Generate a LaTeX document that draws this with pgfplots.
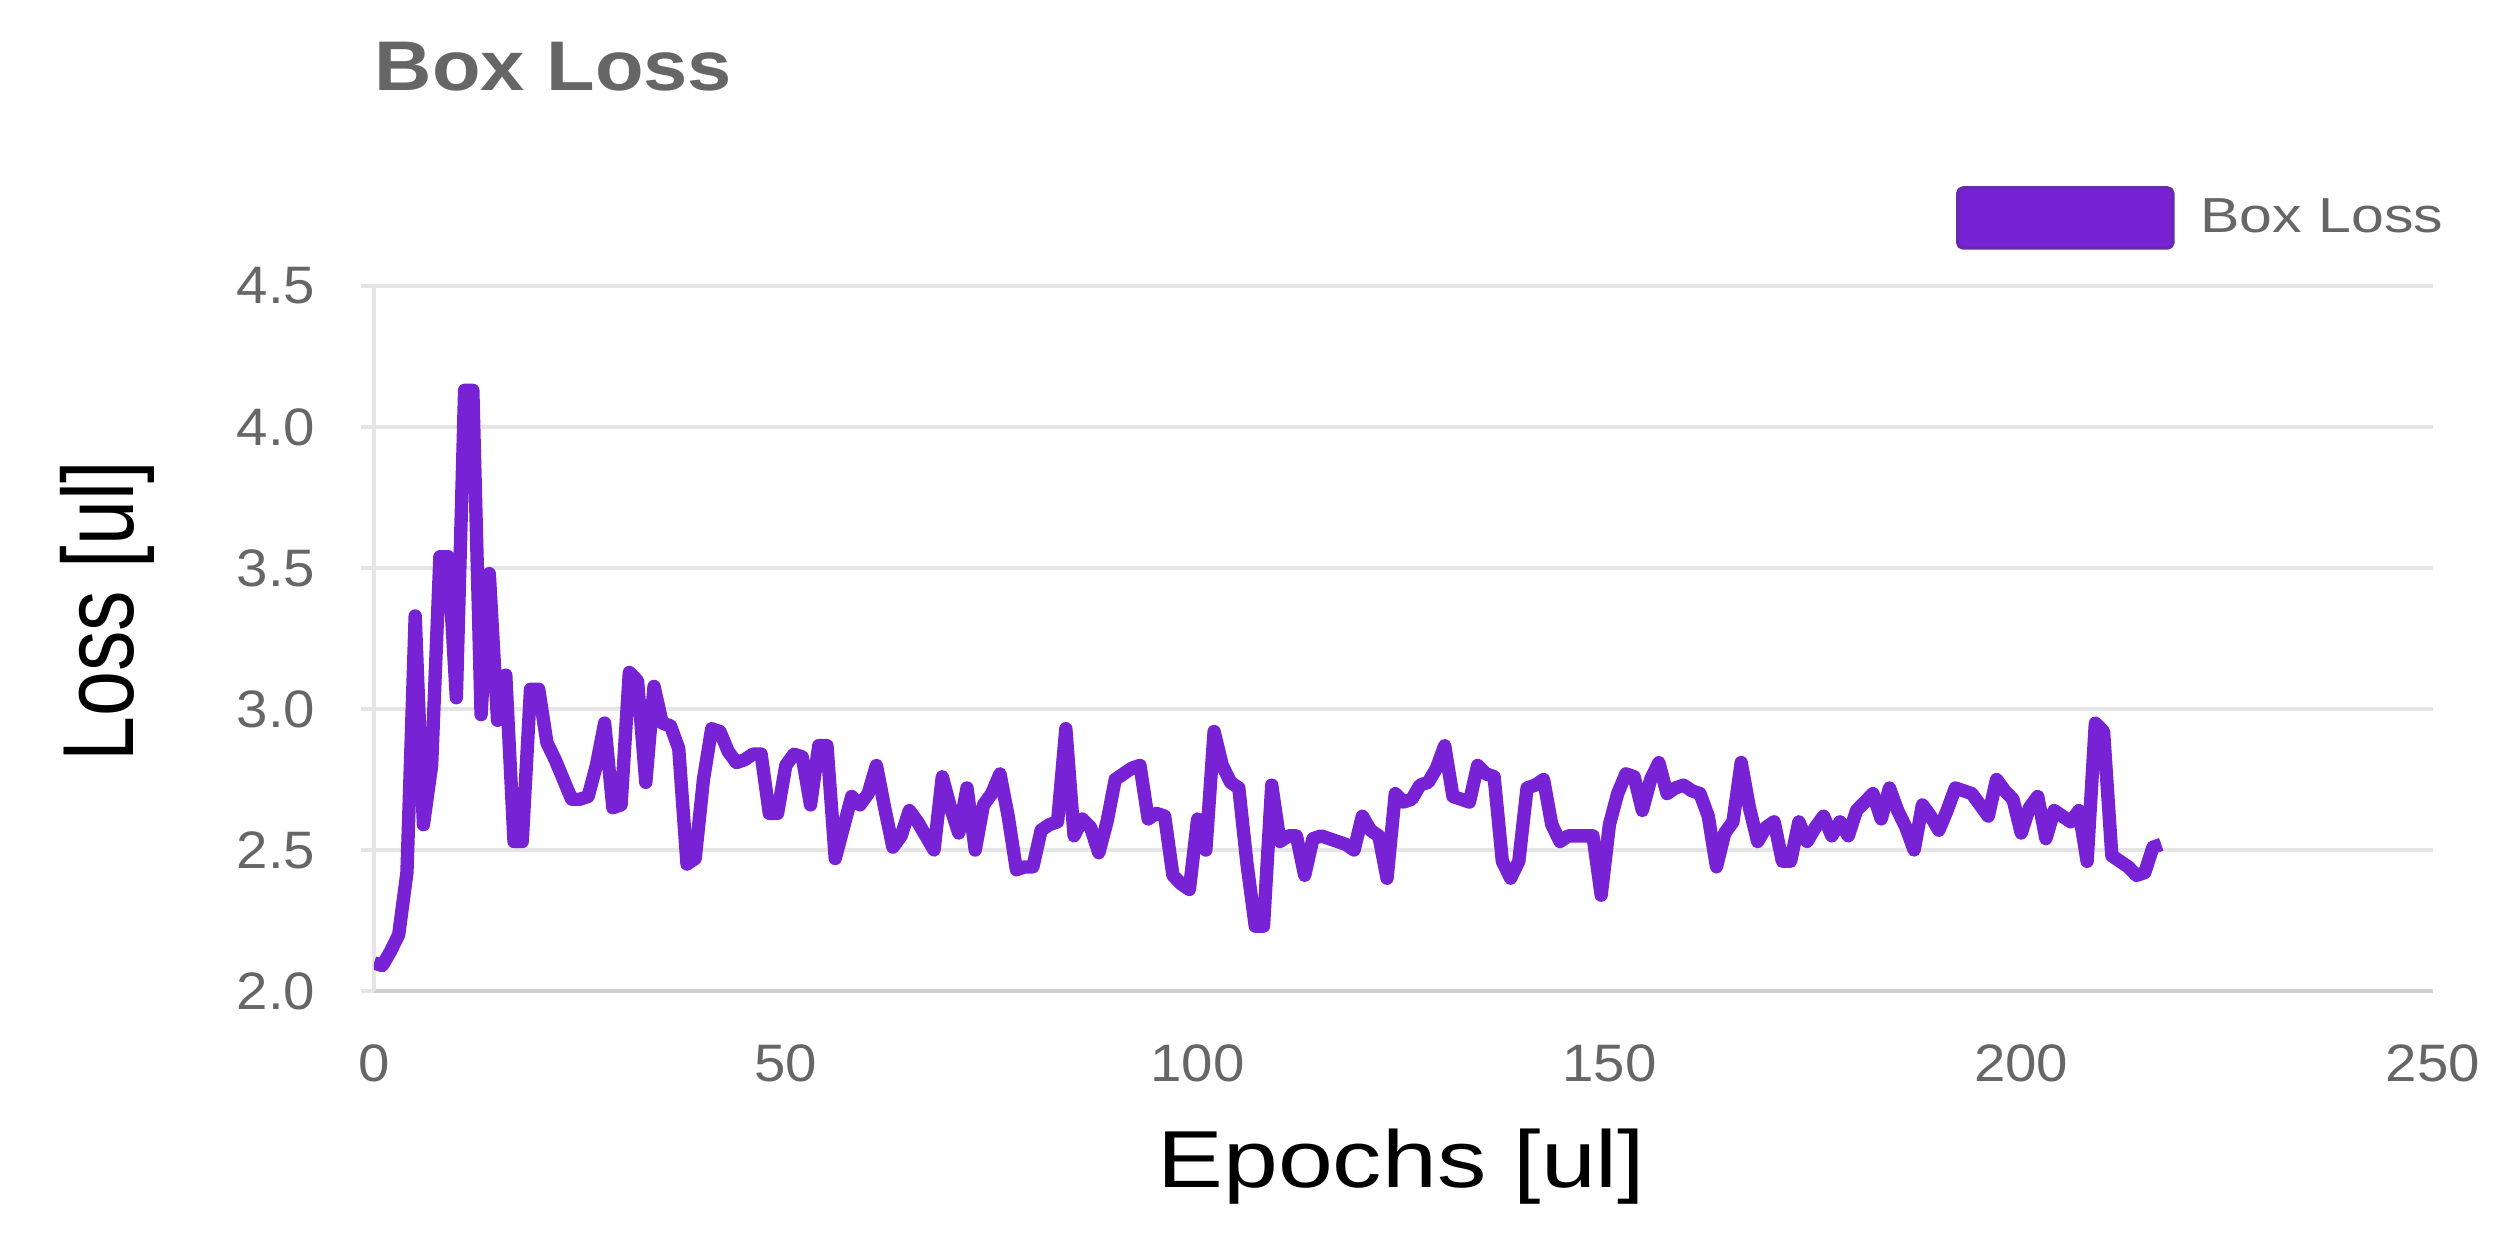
\documentclass[border=0pt]{standalone}
\usepackage{fontspec}
\setmainfont{Liberation Sans}
\newfontfamily\labelfont[FakeStretch=1.22]{Liberation Sans}
\newfontfamily\titlefont[FakeStretch=1.13]{Liberation Sans Bold}
\newfontfamily\legfont[FakeStretch=1.2]{Liberation Sans}
\newfontfamily\tickfont[FakeStretch=1.07]{Liberation Sans}
\usepackage{pgfplots}
\usepackage{pgfplotstable}
\pgfplotsset{compat=1.18}

\definecolor{boxpurple}{RGB}{120,34,214}
\definecolor{boxedge}{RGB}{106,40,176}
\definecolor{txtgray}{RGB}{102,102,102}
\definecolor{gridgray}{RGB}{229,229,229}

% box loss per epoch
\pgfplotstableread{
epoch loss
0 2.10
1 2.09
2 2.14
3 2.20
4 2.42
5 3.33
6 2.59
7 2.80
8 3.54
9 3.54
10 3.04
11 4.13
12 4.13
13 2.98
14 3.48
15 2.96
16 3.12
17 2.53
18 2.53
19 3.07
20 3.07
21 2.88
22 2.82
23 2.75
24 2.68
25 2.68
26 2.69
27 2.80
28 2.95
29 2.65
30 2.66
31 3.13
32 3.10
33 2.74
34 3.08
35 2.95
36 2.94
37 2.86
38 2.45
39 2.47
40 2.75
41 2.93
42 2.92
43 2.85
44 2.81
45 2.82
46 2.84
47 2.84
48 2.63
49 2.63
50 2.80
51 2.84
52 2.83
53 2.66
54 2.87
55 2.87
56 2.47
57 2.58
58 2.69
59 2.66
60 2.70
61 2.80
62 2.65
63 2.51
64 2.55
65 2.64
66 2.60
67 2.55
68 2.50
69 2.76
70 2.65
71 2.56
72 2.72
73 2.50
74 2.66
75 2.70
76 2.77
77 2.62
78 2.43
79 2.44
80 2.44
81 2.57
82 2.59
83 2.60
84 2.93
85 2.55
86 2.61
87 2.58
88 2.49
89 2.60
90 2.75
91 2.77
92 2.79
93 2.80
94 2.61
95 2.63
96 2.62
97 2.41
98 2.38
99 2.36
100 2.61
101 2.50
102 2.92
103 2.80
104 2.74
105 2.72
106 2.45
107 2.23
108 2.23
109 2.73
110 2.53
111 2.55
112 2.55
113 2.41
114 2.54
115 2.55
116 2.54
117 2.53
118 2.52
119 2.50
120 2.62
121 2.57
122 2.55
123 2.40
124 2.70
125 2.67
126 2.68
127 2.73
128 2.74
129 2.79
130 2.87
131 2.69
132 2.68
133 2.67
134 2.80
135 2.77
136 2.76
137 2.46
138 2.40
139 2.46
140 2.72
141 2.73
142 2.75
143 2.59
144 2.53
145 2.55
146 2.55
147 2.55
148 2.55
149 2.34
150 2.59
151 2.70
152 2.77
153 2.76
154 2.64
155 2.75
156 2.81
157 2.70
158 2.72
159 2.73
160 2.71
161 2.70
162 2.62
163 2.44
164 2.56
165 2.60
166 2.81
167 2.65
168 2.53
169 2.58
170 2.60
171 2.46
172 2.46
173 2.60
174 2.53
175 2.58
176 2.62
177 2.55
178 2.60
179 2.55
180 2.64
181 2.67
182 2.70
183 2.61
184 2.72
185 2.64
186 2.58
187 2.50
188 2.66
189 2.62
190 2.57
191 2.64
192 2.72
193 2.71
194 2.70
195 2.66
196 2.62
197 2.75
198 2.71
199 2.68
200 2.56
201 2.65
202 2.69
203 2.54
204 2.64
205 2.62
206 2.60
207 2.64
208 2.46
209 2.95
210 2.92
211 2.48
212 2.46
213 2.44
214 2.41
215 2.42
216 2.51
217 2.52
}\boxloss

\begin{document}
\begin{tikzpicture}
\begin{axis}[
    scale only axis,
    width=20.59cm, height=7.05cm,
    xmin=0, xmax=250,
    ymin=2, ymax=4.5,
    xtick={0,50,100,150,200,250},
    ytick={2,2.5,3,3.5,4,4.5},
    /pgf/number format/assume math mode=true,
    yticklabel style={/pgf/number format/fixed,
        /pgf/number format/fixed zerofill,
        /pgf/number format/precision=1},
    ticklabel style={font=\tickfont\fontsize{15}{18}\selectfont, text=txtgray},
    yticklabel style={inner sep=0pt, xshift=-0.45cm},
    xticklabel style={inner sep=0pt, yshift=-0.4cm},
    axis x line*=bottom,
    axis y line*=left,
    axis line style={-, draw=gridgray, line width=0.9pt},
    x axis line style={draw=black!18},
    tick align=outside,
    major tick length=0.13cm,
    ytick style={draw=gridgray, line width=0.9pt},
    xtick style={draw=none},
    ymajorgrids,
    major grid style={draw=gridgray, line width=0.9pt},
    title={Box Loss},
    title style={font=\titlefont\fontsize{20}{24}\selectfont, text=txtgray,
        at={(axis description cs:0,1)}, anchor=base west, inner sep=0pt, yshift=1.74cm},
    xlabel={Epochs [ul]},
    xlabel style={font=\labelfont\fontsize{23}{28}\selectfont, text=black,
        at={(axis description cs:0.499,-0.278)}, anchor=base, inner sep=0pt},
    ylabel={\scalebox{1}[1.25]{Loss [ul]}},
    ylabel style={font=\fontsize{23}{28}\selectfont, text=black,
        at={(axis description cs:-0.117,0.539)}, anchor=base, inner sep=0pt},
    legend style={at={(axis description cs:0.768,1.0965)}, anchor=west,
        draw=none, fill=none, inner sep=0pt, column sep=0.26cm,
        nodes={inner sep=0pt}, font=\legfont\fontsize{14}{17}\selectfont, text=txtgray},
    legend image code/.code={
        \draw[fill=boxpurple, draw=boxedge, line width=1pt, rounded corners=1.5pt]
            (0cm,-0.3cm) rectangle (2.15cm,0.3cm);},
]
\addplot[color=boxpurple, line width=3.8pt, line join=round, mark=none]
    table[x=epoch, y=loss]{\boxloss};
\addlegendentry{Box Loss}
\end{axis}
\pgfresetboundingbox
\path (-3.74,-2.50) rectangle (21.44,9.91);
\end{tikzpicture}
\end{document}
